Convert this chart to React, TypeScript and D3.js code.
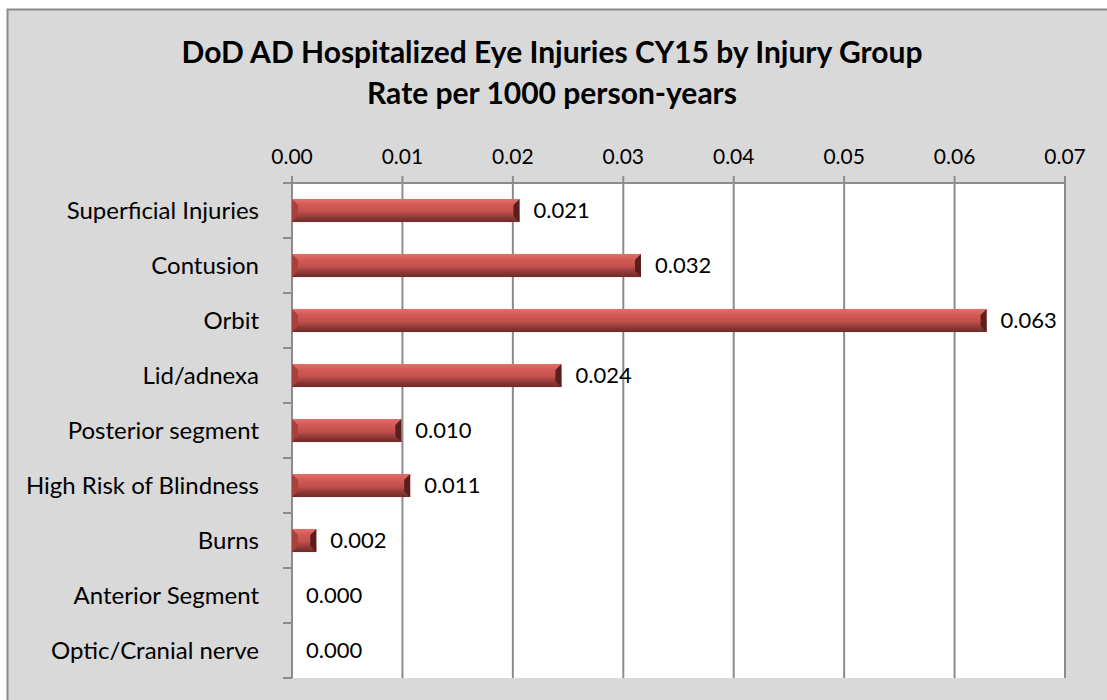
import React from 'react';
import * as d3 from 'd3';

const categories = [
  'Superficial Injuries',
  'Contusion',
  'Orbit',
  'Lid/adnexa',
  'Posterior segment',
  'High Risk of Blindness',
  'Burns',
  'Anterior Segment',
  'Optic/Cranial nerve',
];
const rates = [0.0206, 0.0316, 0.0629, 0.0244, 0.0099, 0.0107, 0.0022, 0, 0];
const xTicks = [0, 0.01, 0.02, 0.03, 0.04, 0.05, 0.06, 0.07];
const titleLines = ['DoD AD Hospitalized Eye Injuries CY15 by Injury Group', 'Rate per 1000 person-years'];

const W = 1107;
const H = 700;
const margin = { top: 183, right: 42, bottom: 22, left: 292 };
const font = 'Lato, "Open Sans", sans-serif';

export default function App() {
  const x = d3.scaleLinear().domain([0, 0.07]).range([margin.left, W - margin.right]);
  const y = d3.scaleBand().domain(categories).range([margin.top, H - margin.bottom]).paddingInner(0.58).paddingOuter(0.29);
  const band = d3.scaleBand().domain(categories).range([margin.top, H - margin.bottom]);
  const fmt = d3.format('.3f');
  const top = margin.top;
  const bottom = H - margin.bottom;

  return (
    <svg width={W} height={H} style={{ position: 'absolute', left: 0, top: 0, fontFamily: font }}>
      <defs>
        <linearGradient id="barGrad" x1="0" y1="0" x2="0" y2="1">
          <stop offset="0" stopColor="#e0706b" />
          <stop offset="0.25" stopColor="#d45a55" />
          <stop offset="0.55" stopColor="#c0504d" />
          <stop offset="0.8" stopColor="#8e3835" />
          <stop offset="1" stopColor="#6e2a28" />
        </linearGradient>
      </defs>
      <rect x={7.5} y={9.5} width={W + 10} height={H + 10} fill="#d9d9d9" stroke="#8c8c8c" strokeWidth={2} />
      <rect x={margin.left} y={top} width={W - margin.right - margin.left} height={bottom - top} fill="#ffffff" />
      {titleLines.map((t, i) => (
        <text key={t} x={552} y={63 + i * 41} textAnchor="middle" fontSize={30} fontWeight="bold" fill="#000">
          {t}
        </text>
      ))}
      {xTicks.map((t) => (
        <g key={t}>
          <line x1={x(t)} x2={x(t)} y1={top - 7} y2={bottom} stroke="#8c8c8c" strokeWidth={2} />
          <text x={x(t)} y={164} textAnchor="middle" fontSize={21} fill="#000">
            {t.toFixed(2)}
          </text>
        </g>
      ))}
      <line x1={margin.left - 2} x2={W - margin.right} y1={top} y2={top} stroke="#8c8c8c" strokeWidth={2} />
      <line x1={margin.left} x2={margin.left} y1={top - 7} y2={bottom} stroke="#8c8c8c" strokeWidth={2} />
      {categories.map((c) => (
        <line key={c} x1={margin.left - 9} x2={margin.left} y1={band(c)!} y2={band(c)!} stroke="#8c8c8c" strokeWidth={2} />
      ))}
      <line x1={margin.left - 9} x2={margin.left} y1={bottom} y2={bottom} stroke="#8c8c8c" strokeWidth={2} />
      {categories.map((c, i) => {
        const v = rates[i];
        const x0 = x(0);
        const x1 = x(v);
        const by = y(c)!;
        const bh = y.bandwidth();
        const cy = band(c)! + band.bandwidth() / 2;
        const cap = Math.min(6, (x1 - x0) / 2);
        return (
          <g key={c}>
            <text x={259} y={cy} dy="0.35em" textAnchor="end" fontSize={24} fill="#000">
              {c}
            </text>
            {v > 0 && (
              <>
                <rect x={x0} y={by} width={x1 - x0} height={bh} fill="url(#barGrad)" />
                <polygon
                  points={`${x1 - cap},${by + cap} ${x1},${by} ${x1},${by + bh} ${x1 - cap},${by + bh - cap}`}
                  fill="#5a1f1d"
                />
                <polygon
                  points={`${x0},${by} ${x0 + cap},${by + cap} ${x0 + cap},${by + bh - cap} ${x0},${by + bh}`}
                  fill="#a8403d"
                />
              </>
            )}
            <text x={x1 + 14} y={cy} dy="0.35em" fontSize={22} fill="#000">
              {fmt(v)}
            </text>
          </g>
        );
      })}
    </svg>
  );
}
